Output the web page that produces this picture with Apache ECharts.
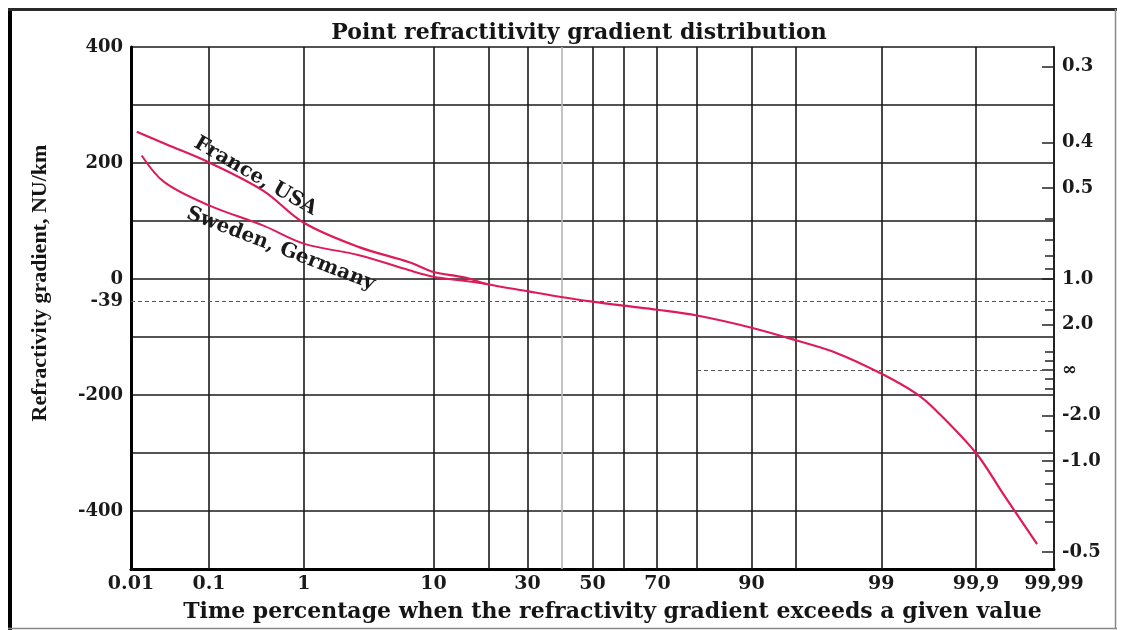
<!DOCTYPE html>
<html>
<head>
<meta charset="utf-8">
<title>Point refractitivity gradient distribution</title>
<script src="https://cdn.jsdelivr.net/npm/echarts@6/dist/echarts.min.js"></script>
<style>
  html, body { margin: 0; padding: 0; background: #fff; }
  #chart { width: 1121px; height: 630px; }
</style>
</head>
<body>
<div id="chart"></div>
<script>
// Exceedance percentages and refractivity gradients (N-units/km)
const pctFrance  = [0.012, 0.03, 0.1, 0.4, 1, 3, 7, 10, 15];
const gradFrance = [254, 232, 201, 152, 97, 55, 29, 12, 3];
const pctSweden  = [0.014, 0.028, 0.1, 0.4, 1, 3, 7, 10, 15, 20];
const gradSweden = [213, 167, 127, 92, 61, 41, 15, 4, -3, -9];
// Both climates share the same distribution from ~20 % on
const pctCommon  = [20, 30, 40, 50, 60, 70, 80, 90, 95, 97.5, 99, 99.55, 99.72, 99.9, 99.953, 99.983];
const gradCommon = [-9, -21, -31, -39, -46, -53, -63, -84, -106, -127, -163, -198, -227, -300, -370, -457];

// Probability-scale axis
const pctTickValues = [0.01, 0.1, 1, 10, 30, 50, 70, 90, 99, 99.9, 99.99];
const pctTickLabels = ['0.01', '0.1', '1', '10', '30', '50', '70', '90', '99', '99,9', '99,99'];
const pctGridValues = [0.1, 1, 10, 20, 30, 40, 50, 60, 70, 80, 90, 95, 99, 99.9];

// Gradient axis
const gradTickValues = [400, 200, 0, -39, -200, -400];
const gradMin = -500, gradMax = 400, gradStep = 100;

// Effective earth-radius factor k = 157 / (157 + dN/dh)
const kMajor      = [0.3, 0.4, 0.5, 1.0, 2.0, Infinity, -2.0, -1.0, -0.5];
const kMajorLabel = ['0.3', '0.4', '0.5', '1.0', '2.0', '\u221E', '-2.0', '-1.0', '-0.5'];
const kMinor      = [0.6, 0.7, 0.8, 0.9, 1.5, 5, 10, -10, -5, -1.5, -0.9, -0.8, -0.7, -0.6];

// Gradient lines: standard atmosphere and the super-refraction threshold
const gradMedian = -39;
const gradDucting = -157;
const ductingFromPct = 80;

// Inverse standard normal CDF (Acklam's rational approximation)
function probit(p) {
  const a = [-3.969683028665376e+01, 2.209460984245205e+02, -2.759285104469687e+02, 1.383577518672690e+02, -3.066479806614716e+01, 2.506628277459239e+00];
  const b = [-5.447609879822406e+01, 1.615858368580409e+02, -1.556989798598866e+02, 6.680131188771972e+01, -1.328068155288572e+01];
  const c = [-7.784894002430293e-03, -3.223964580411365e-01, -2.400758277161838e+00, -2.549732539343734e+00, 4.374664141464968e+00, 2.938163982698783e+00];
  const d = [7.784695709041462e-03, 3.224671290700398e-01, 2.445134137142996e+00, 3.754408661907416e+00];
  const pl = 0.02425, ph = 1 - pl;
  if (p < pl) {
    const q = Math.sqrt(-2 * Math.log(p));
    return (((((c[0]*q+c[1])*q+c[2])*q+c[3])*q+c[4])*q+c[5]) / ((((d[0]*q+d[1])*q+d[2])*q+d[3])*q+1);
  }
  if (p <= ph) {
    const q = p - 0.5, r = q * q;
    return (((((a[0]*r+a[1])*r+a[2])*r+a[3])*r+a[4])*r+a[5])*q / (((((b[0]*r+b[1])*r+b[2])*r+b[3])*r+b[4])*r+1);
  }
  const q = Math.sqrt(-2 * Math.log(1 - p));
  return -(((((c[0]*q+c[1])*q+c[2])*q+c[3])*q+c[4])*q+c[5]) / ((((d[0]*q+d[1])*q+d[2])*q+d[3])*q+1);
}
const zOf = pct => probit(pct / 100);
const gradOfK = k => 157 / k - 157;

const zMin = zOf(pctTickValues[0]);
const zMax = zOf(pctTickValues[pctTickValues.length - 1]);

const toPoints = (pcts, grads) => pcts.map((p, i) => [zOf(p), grads[i]]);
const franceData = toPoints(pctFrance.concat(pctCommon), gradFrance.concat(gradCommon));
const swedenData = toPoints(pctSweden, gradSweden);

const near = (a, b) => Math.abs(a - b) < 1e-6;
const serif = 'DejaVu Serif';
const curveColor = '#de1b58';
const gridColor = '#1a1a1a';
const dashStyle = { color: '#555', width: 1, type: [4, 3] };

const verticalGrid = pctGridValues.map(p => ({
  xAxis: zOf(p),
  lineStyle: { color: p === 40 ? '#b5b5b5' : gridColor, width: 1.6, type: 'solid' }
}));

// Curve captions sit on the curves, turned to follow their slope
const captionStyle = { fontFamily: serif, fontWeight: 'bold', fontSize: 20, color: '#1a1a1a' };
const caption = (pct, grad, text, angle) => ({
  coord: [zOf(pct), grad],
  symbol: 'circle', symbolSize: 2,
  itemStyle: { color: 'rgba(0,0,0,0)' },
  label: Object.assign({ show: true, position: 'inside', formatter: text, rotate: angle }, captionStyle)
});

const chart = echarts.init(document.getElementById('chart'), null, { renderer: 'canvas' });
chart.setOption({
  backgroundColor: '#fff',
  animation: false,
  title: {
    text: 'Point refractitivity gradient distribution',
    left: 574, top: 17, textAlign: 'center',
    textStyle: { fontFamily: serif, fontWeight: 'bold', fontSize: 22, color: '#151515' }
  },
  grid: { left: 131, right: 67, top: 47, bottom: 61, containLabel: false },
  xAxis: {
    type: 'value', min: zMin, max: zMax,
    name: 'Time percentage when the refractivity gradient exceeds a given value',
    nameLocation: 'middle', nameGap: 32,
    nameTextStyle: { fontFamily: serif, fontWeight: 'bold', fontSize: 22, color: '#151515', padding: [0, 0, 0, 40] },
    axisLine: { show: true, onZero: false, lineStyle: { color: '#000', width: 3 } },
    axisTick: { show: false },
    splitLine: { show: false },
    axisLabel: {
      customValues: pctTickValues.map(zOf),
      showMinLabel: true, showMaxLabel: true,
      margin: 6,
      fontFamily: serif, fontWeight: 'bold', fontSize: 19, color: '#1a1a1a',
      formatter: v => {
        const i = pctTickValues.findIndex(p => near(zOf(p), v));
        return i >= 0 ? pctTickLabels[i] : '';
      }
    }
  },
  yAxis: [
    {
      type: 'value', min: gradMin, max: gradMax, interval: gradStep,
      name: 'Refractivity gradient, NU/km',
      nameLocation: 'middle', nameGap: 80,
      nameTextStyle: { fontFamily: 'Liberation Serif', fontWeight: 'bold', fontSize: 22, color: '#151515', padding: [0, 0, 0, 50] },
      axisLine: { show: true, onZero: false, lineStyle: { color: '#000', width: 3 } },
      axisTick: { show: false },
      splitLine: { show: true, lineStyle: { color: gridColor, width: 1.6 } },
      axisLabel: {
        customValues: gradTickValues,
        margin: 8,
        fontFamily: serif, fontWeight: 'bold', fontSize: 18, color: '#1a1a1a',
        formatter: v => String(v)
      }
    },
    {
      type: 'value', min: gradMin, max: gradMax, position: 'right',
      axisLine: { show: true, onZero: false, lineStyle: { color: '#222', width: 2 } },
      splitLine: { show: false },
      axisTick: {
        show: true, inside: true, length: 12,
        customValues: kMajor.map(gradOfK),
        lineStyle: { color: '#222', width: 1.5 }
      },
      axisLabel: {
        customValues: kMajor.map(gradOfK),
        margin: 8,
        fontFamily: serif, fontWeight: 'bold', fontSize: 18, color: '#1a1a1a',
        formatter: v => {
          const i = kMajor.findIndex(k => near(gradOfK(k), v));
          return i >= 0 ? kMajorLabel[i] : '';
        }
      }
    },
    {
      type: 'value', min: gradMin, max: gradMax, position: 'right', offset: 0,
      axisLine: { show: false, onZero: false },
      splitLine: { show: false },
      axisLabel: { show: false },
      axisTick: {
        show: true, inside: true, length: 9,
        customValues: kMinor.map(gradOfK),
        lineStyle: { color: '#222', width: 1.5 }
      }
    }
  ],
  series: [
    {
      name: 'France, USA',
      type: 'line', data: franceData, smooth: 0.35, symbol: 'none',
      lineStyle: { color: curveColor, width: 2.2 },
      z: 5,
      markLine: {
        silent: true, symbol: 'none', label: { show: false },
        data: verticalGrid.concat([
          { yAxis: gradMedian, lineStyle: dashStyle },
          [
            { coord: [zOf(ductingFromPct), gradDucting], lineStyle: dashStyle },
            { coord: [zMax, gradDucting] }
          ]
        ]),
        z: 1
      },
      markPoint: { silent: true, data: [caption(0.33, 177, 'France, USA', -30)] }
    },
    {
      name: 'Sweden, Germany',
      type: 'line', data: swedenData, smooth: 0.35, symbol: 'none',
      lineStyle: { color: curveColor, width: 2 },
      z: 5,
      markPoint: { silent: true, data: [caption(0.6, 52, 'Sweden, Germany', -21)] }
    }
  ],
  graphic: [
    { type: 'line', silent: true, shape: { x1: 10, y1: 8, x2: 10, y2: 630 }, style: { stroke: '#000', lineWidth: 4 } },
    { type: 'line', silent: true, shape: { x1: 8, y1: 9.5, x2: 1117, y2: 9.5 }, style: { stroke: '#2a2a2a', lineWidth: 3 } },
    { type: 'line', silent: true, shape: { x1: 1115.5, y1: 9, x2: 1115.5, y2: 629 }, style: { stroke: '#888', lineWidth: 1.5 } },
    { type: 'line', silent: true, shape: { x1: 8, y1: 628.5, x2: 1117, y2: 628.5 }, style: { stroke: '#888', lineWidth: 1.5 } }
  ]
});
</script>
</body>
</html>
